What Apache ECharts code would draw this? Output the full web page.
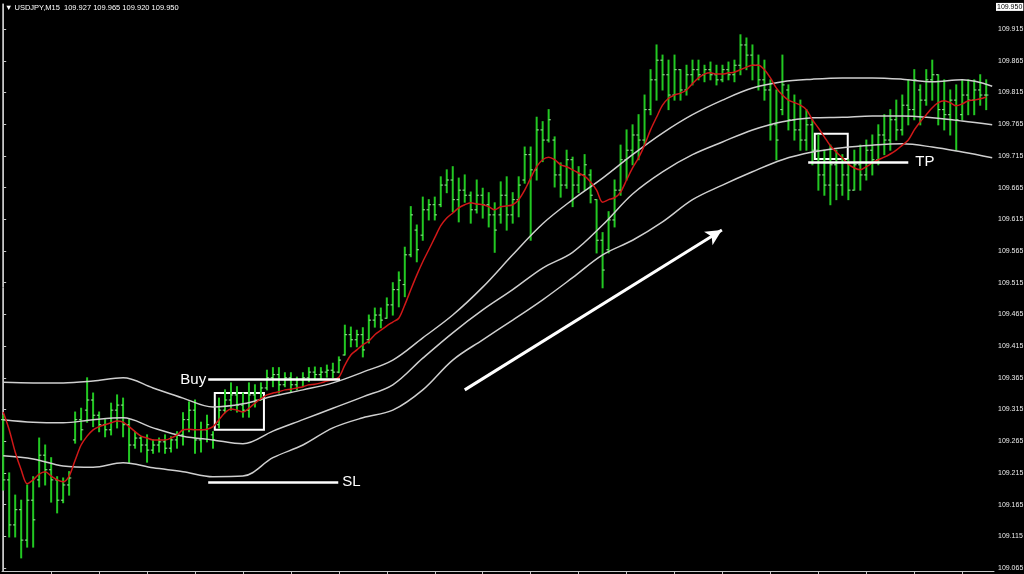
<!DOCTYPE html>
<html><head><meta charset="utf-8">
<script src="https://cdn.jsdelivr.net/npm/echarts@6/dist/echarts.min.js"></script>
<style>html,body{margin:0;padding:0;background:#000;}#c{width:1024px;height:574px;}</style>
</head><body><div id="c"></div>
<script>
// ---- DATA (USDJPY M15) ----
const titleText = '\u25BC USDJPY,M15  109.927 109.965 109.920 109.950';
const lastPrice = 109.950;
const priceTicks = [109.065,109.115,109.165,109.215,109.265,109.315,109.365,109.415,109.465,109.515,109.565,109.615,109.665,109.715,109.765,109.815,109.865,109.915];
const timeTicks = [8,16,24,32,40,48,56,64,72,80,88,96,104,112,120,128,136,144,152,160];

const opens = [
109.299,109.204,109.133,109.157,109.109,109.172,109.204,109.243,109.220,109.204,
109.172,109.196,109.267,109.299,109.314,109.330,109.306,109.291,109.283,109.314,
109.322,109.291,109.259,109.270,109.259,109.251,109.259,109.264,109.254,109.267,
109.275,109.299,109.314,109.267,109.283,109.275,109.291,109.314,109.330,109.338,
109.322,109.314,109.338,109.330,109.349,109.365,109.370,109.354,109.365,109.354,
109.362,109.365,109.374,109.370,109.374,109.377,109.374,109.401,109.433,109.425,
109.433,109.425,109.456,109.464,109.459,109.480,109.504,109.512,109.559,109.598,
109.590,109.630,109.638,109.638,109.669,109.677,109.646,109.661,109.653,109.630,
109.653,109.638,109.622,109.622,109.653,109.622,109.646,109.677,109.717,109.693,
109.756,109.740,109.740,109.685,109.669,109.709,109.669,109.685,109.685,109.646,
109.582,109.567,109.614,109.661,109.709,109.724,109.748,109.740,109.788,109.835,
109.866,109.843,109.811,109.851,109.819,109.843,109.851,109.843,109.851,109.843,
109.835,109.851,109.843,109.858,109.890,109.874,109.858,109.835,109.819,109.764,
109.788,109.819,109.772,109.756,109.740,109.764,109.724,109.685,109.669,109.701,
109.669,109.685,109.661,109.701,109.685,109.724,109.709,109.748,109.740,109.772,
109.756,109.795,109.788,109.819,109.803,109.835,109.843,109.788,109.780,109.803,
109.780,109.811,109.803,109.819,109.811];
const highs = [
109.306,109.215,109.180,109.172,109.196,109.209,109.270,109.259,109.239,109.209,
109.207,109.217,109.311,109.317,109.365,109.341,109.311,109.299,109.325,109.338,
109.333,109.299,109.280,109.272,109.275,109.267,109.270,109.275,109.272,109.280,
109.310,109.327,109.330,109.295,109.306,109.280,109.333,109.346,109.357,109.351,
109.341,109.357,109.354,109.357,109.377,109.381,109.381,109.373,109.373,109.366,
109.373,109.381,109.382,109.381,109.385,109.388,109.398,109.448,109.445,109.440,
109.444,109.464,109.475,109.475,109.491,109.515,109.532,109.571,109.635,109.606,
109.650,109.646,109.650,109.682,109.693,109.698,109.680,109.685,109.658,109.677,
109.664,109.657,109.641,109.674,109.682,109.657,109.682,109.729,109.729,109.776,
109.769,109.788,109.745,109.704,109.724,109.713,109.698,109.717,109.693,109.646,
109.594,109.627,109.677,109.732,109.756,109.764,109.780,109.811,109.851,109.890,
109.874,109.866,109.874,109.851,109.858,109.866,109.866,109.858,109.863,109.858,
109.858,109.863,109.866,109.906,109.901,109.890,109.874,109.866,109.835,109.819,
109.874,109.827,109.811,109.803,109.788,109.772,109.748,109.724,109.732,109.724,
109.717,109.709,109.724,109.732,109.740,109.748,109.764,109.780,109.788,109.803,
109.811,109.835,109.851,109.827,109.851,109.866,109.843,109.835,109.819,109.827,
109.835,109.835,109.835,109.843,109.835];
const lows = [
109.188,109.114,109.114,109.081,109.098,109.098,109.193,109.196,109.169,109.152,
109.168,109.180,109.262,109.267,109.295,109.288,109.280,109.272,109.275,109.286,
109.272,109.231,109.254,109.248,109.232,109.246,109.248,109.246,109.248,109.254,
109.259,109.280,109.246,109.248,109.264,109.254,109.286,109.310,109.314,109.311,
109.303,109.303,109.319,109.330,109.346,109.351,109.341,109.351,109.343,109.346,
109.351,109.359,109.362,109.362,109.366,109.365,109.373,109.401,109.414,109.414,
109.398,109.420,109.445,109.444,109.459,109.464,109.477,109.493,109.556,109.548,
109.582,109.614,109.614,109.635,109.657,109.627,109.611,109.642,109.609,109.625,
109.617,109.603,109.563,109.609,109.598,109.609,109.619,109.672,109.582,109.677,
109.706,109.737,109.666,109.650,109.664,109.635,109.657,109.661,109.641,109.562,
109.507,109.562,109.603,109.653,109.677,109.701,109.709,109.732,109.780,109.803,
109.819,109.788,109.803,109.803,109.811,109.827,109.835,109.832,109.835,109.827,
109.832,109.835,109.832,109.843,109.851,109.835,109.819,109.803,109.740,109.709,
109.780,109.756,109.740,109.724,109.724,109.701,109.661,109.653,109.638,109.646,
109.653,109.646,109.661,109.661,109.677,109.685,109.701,109.717,109.724,109.740,
109.748,109.764,109.772,109.764,109.795,109.803,109.764,109.756,109.748,109.724,
109.772,109.780,109.780,109.795,109.788];
const closes = [
109.204,109.133,109.157,109.109,109.172,109.141,109.243,109.220,109.204,109.172,
109.196,109.207,109.299,109.283,109.330,109.306,109.291,109.283,109.314,109.322,
109.291,109.259,109.270,109.259,109.251,109.259,109.264,109.254,109.267,109.275,
109.299,109.314,109.267,109.283,109.291,109.267,109.314,109.330,109.338,109.322,
109.314,109.338,109.330,109.349,109.365,109.370,109.354,109.365,109.354,109.362,
109.365,109.374,109.370,109.374,109.377,109.374,109.393,109.433,109.425,109.433,
109.409,109.456,109.464,109.456,109.480,109.504,109.519,109.559,109.622,109.567,
109.630,109.638,109.622,109.669,109.677,109.646,109.661,109.653,109.630,109.653,
109.638,109.622,109.598,109.653,109.622,109.646,109.669,109.717,109.693,109.756,
109.740,109.772,109.685,109.669,109.709,109.669,109.685,109.701,109.653,109.582,
109.535,109.614,109.661,109.709,109.724,109.748,109.740,109.788,109.835,109.866,
109.843,109.811,109.851,109.819,109.843,109.851,109.843,109.851,109.843,109.835,
109.851,109.843,109.858,109.890,109.874,109.858,109.835,109.819,109.764,109.740,
109.827,109.772,109.756,109.740,109.764,109.724,109.685,109.669,109.701,109.669,
109.685,109.661,109.701,109.685,109.724,109.709,109.748,109.740,109.772,109.756,
109.795,109.788,109.835,109.803,109.835,109.843,109.788,109.780,109.803,109.772,
109.811,109.803,109.819,109.811,109.811];
const maValues = [
109.311,109.283,109.248,109.220,109.198,109.204,109.213,109.217,109.210,109.204,
109.201,109.210,109.235,109.259,109.273,109.283,109.288,109.291,109.294,109.297,
109.295,109.288,109.280,109.273,109.270,109.267,109.267,109.267,109.270,109.275,
109.283,109.284,109.283,109.283,109.284,109.288,109.299,109.310,109.316,109.314,
109.311,109.317,109.325,109.332,109.338,109.341,109.343,109.346,109.347,109.349,
109.351,109.354,109.355,109.357,109.360,109.362,109.366,109.385,109.401,109.409,
109.417,109.423,109.433,109.440,109.447,109.453,109.459,109.480,109.504,109.527,
109.548,109.567,109.586,109.605,109.617,109.625,109.633,109.638,109.641,109.639,
109.638,109.635,109.630,109.635,109.636,109.638,109.646,109.661,109.680,109.698,
109.709,109.713,109.709,109.701,109.698,109.693,109.688,109.683,109.674,109.661,
109.642,109.646,109.649,109.658,109.677,109.696,109.712,109.732,109.756,109.776,
109.795,109.806,109.811,109.814,109.819,109.829,109.838,109.844,109.846,109.844,
109.844,109.846,109.847,109.851,109.855,109.858,109.858,109.851,109.838,109.822,
109.811,109.803,109.799,109.795,109.788,109.772,109.759,109.745,109.731,109.721,
109.712,109.702,109.696,109.693,109.698,109.704,109.709,109.713,109.718,109.724,
109.732,109.740,109.756,109.769,109.780,109.791,109.799,109.802,109.799,109.794,
109.797,109.802,109.803,109.805,109.808];
const bandIndex = [0,5,10,15,20,25,30,35,40,45,50,55,60,65,70,75,80,85,90,95,100,105,110,115,120,125,130,135,140,145,150,155,160,165];
const bandUpper = [109.358,109.357,109.357,109.360,109.365,109.349,109.333,109.319,109.324,109.336,109.346,109.357,109.374,109.393,109.428,109.464,109.508,109.559,109.608,109.646,109.680,109.717,109.751,109.780,109.803,109.822,109.832,109.836,109.838,109.838,109.836,109.832,109.835,109.825];
const bandMiddle = [109.299,109.295,109.294,109.299,109.302,109.286,109.273,109.267,109.261,109.281,109.299,109.317,109.335,109.354,109.396,109.436,109.472,109.504,109.538,109.563,109.606,109.655,109.690,109.717,109.737,109.756,109.769,109.775,109.776,109.778,109.778,109.775,109.770,109.764];
const bandLower = [109.242,109.237,109.226,109.224,109.231,109.223,109.217,109.209,109.210,109.239,109.259,109.286,109.302,109.314,109.346,109.393,109.425,109.456,109.488,109.523,109.559,109.582,109.611,109.646,109.669,109.690,109.709,109.721,109.728,109.732,109.734,109.729,109.721,109.712];

// annotation levels [barIndex, price]
const buyLine = [[34.2,109.362],[56.2,109.362]];
const slLine = [[34.2,109.201],[55.9,109.201]];
const tpLine = [[134.3,109.705],[151.0,109.705]];
const entryBox = [[35.3,109.341],[43.5,109.283]];
const exitBox = [[135.4,109.750],[140.9,109.710]];
const trendArrow = [[77.0,109.346],[119.9,109.598]];

// ---- CHART ----
const GREEN = '#22c822';
const Y_MIN = 109.0603, Y_MAX = 109.9546;
const AXIS_FONT = 'Liberation Sans, Arial, sans-serif';
const ohlc = opens.map((o, i) => [i, o, highs[i], lows[i], closes[i]]);

function renderOHLC(params, api) {
  const i = api.value(0);
  const o = api.coord([i, api.value(1)]);
  const h = api.coord([i, api.value(2)]);
  const l = api.coord([i, api.value(3)]);
  const c = api.coord([i, api.value(4)]);
  const w = 2.2;
  const st = { stroke: GREEN, lineWidth: 2 };
  return { type: 'group', children: [
    { type: 'line', shape: { x1: h[0], y1: h[1] - 0.5, x2: l[0], y2: l[1] + 0.5 }, style: st },
    { type: 'line', shape: { x1: o[0] - w, y1: o[1], x2: o[0], y2: o[1] }, style: { stroke: '#9fe89f', lineWidth: 1 } },
    { type: 'line', shape: { x1: c[0], y1: c[1], x2: c[0] + w, y2: c[1] }, style: { stroke: '#9fe89f', lineWidth: 1 } }
  ]};
}

const labelFont = { color: '#ffffff', fontSize: 15, fontFamily: 'Liberation Sans, Arial, sans-serif' };
const wLine = { color: '#ffffff', width: 2.5, type: 'solid' };

const chart = echarts.init(document.getElementById('c'));
chart.setOption({
  animation: false,
  backgroundColor: '#000000',
  title: { text: titleText, left: 5, top: 4, padding: 0,
    textStyle: { color: '#ffffff', fontSize: 7.5, fontWeight: 'normal', fontFamily: AXIS_FONT } },
  grid: { left: 2, right: 30, top: 4, bottom: 3, containLabel: false, outerBoundsMode: 'none' },
  xAxis: {
    type: 'value', min: -0.2, max: 165.3,
    axisLine: { show: true, lineStyle: { color: '#c8c8c8', width: 1 } },
    axisTick: { show: true, customValues: timeTicks, length: 3, lineStyle: { color: '#c8c8c8' } },
    axisLabel: { show: false }, splitLine: { show: false }
  },
  yAxis: [
    { type: 'value', position: 'right', min: Y_MIN, max: Y_MAX,
      axisLine: { show: true, lineStyle: { color: '#c8c8c8', width: 1 } },
      axisTick: { show: true, customValues: priceTicks, length: 3, lineStyle: { color: '#c8c8c8' } },
      axisLabel: { show: true, customValues: priceTicks, margin: 4, color: '#ececec', fontSize: 7,
        fontFamily: AXIS_FONT, formatter: v => v.toFixed(3) },
      splitLine: { show: false } },
    { type: 'value', position: 'right', min: Y_MIN, max: Y_MAX,
      axisLine: { show: false }, axisTick: { show: false }, splitLine: { show: false },
      axisLabel: { show: true, customValues: [lastPrice], margin: 2, color: '#000000', backgroundColor: '#ffffff',
        padding: [1, 1, 0, 1], fontSize: 7, fontFamily: AXIS_FONT,
        formatter: v => v.toFixed(3) } },
    { type: 'value', position: 'left', min: Y_MIN, max: Y_MAX,
      axisLine: { show: true, lineStyle: { color: '#9a9a9a', width: 1 } },
      axisTick: { show: false }, axisLabel: { show: false }, splitLine: { show: false } }
  ],
  series: [
    { name: 'bars', type: 'custom', renderItem: renderOHLC, data: ohlc, encode: { x: 0, y: [2, 3] }, z: 2 },
    { name: 'upper', type: 'line', data: bandIndex.map((x, k) => [x, bandUpper[k]]), smooth: 0.35, showSymbol: false,
      lineStyle: { color: '#cfcfcf', width: 1.5 }, z: 3 },
    { name: 'middle', type: 'line', data: bandIndex.map((x, k) => [x, bandMiddle[k]]), smooth: 0.35, showSymbol: false,
      lineStyle: { color: '#cfcfcf', width: 1.5 }, z: 3 },
    { name: 'lower', type: 'line', data: bandIndex.map((x, k) => [x, bandLower[k]]), smooth: 0.35, showSymbol: false,
      lineStyle: { color: '#cfcfcf', width: 1.5 }, z: 3 },
    { name: 'ma', type: 'line', data: maValues.map((v, i) => [i, v]), smooth: 0.3, showSymbol: false,
      lineStyle: { color: '#d01818', width: 1.5 }, z: 4 },
    { name: 'levels', type: 'line', data: [], z: 5,
      markLine: { silent: true, symbol: ['none', 'none'], lineStyle: wLine,
        data: [
          [{ coord: buyLine[0], name: 'Buy', label: Object.assign({ show: true, position: 'start', distance: 2, formatter: '{b}' }, labelFont) }, { coord: buyLine[1] }],
          [{ coord: slLine[0], name: 'SL', label: Object.assign({ show: true, position: 'end', distance: 4, formatter: '{b}' }, labelFont) }, { coord: slLine[1] }],
          [{ coord: tpLine[0], name: 'TP', label: Object.assign({ show: true, position: 'end', distance: 7, formatter: '{b}' }, labelFont) }, { coord: tpLine[1] }]
        ] },
      markArea: { silent: true, label: { show: false },
        itemStyle: { color: 'rgba(0,0,0,0)', borderColor: '#ffffff', borderWidth: 2 },
        data: [
          [{ coord: entryBox[0] }, { coord: entryBox[1] }],
          [{ coord: exitBox[0] }, { coord: exitBox[1] }]
        ] } },
    { name: 'arrow', type: 'line', data: [], z: 5,
      markLine: { silent: true, symbol: ['none', 'arrow'], symbolSize: [12, 16], label: { show: false },
        lineStyle: { color: '#ffffff', width: 3, type: 'solid' },
        data: [[{ coord: trendArrow[0] }, { coord: trendArrow[1] }]] } }
  ]
});
</script></body></html>
